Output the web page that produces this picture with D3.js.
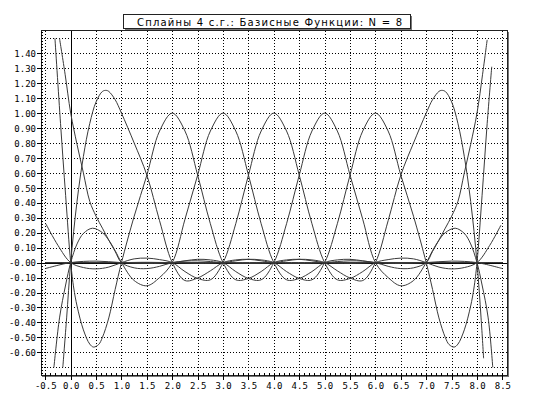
<!doctype html>
<html lang="ru">
<head>
<meta charset="utf-8">
<title>Сплайны 4 с.г.: Базисные Функции</title>
<script src="https://d3js.org/d3.v7.min.js"></script>
<style>
body { margin: 0; background: #fff; }
svg { display: block; }
.grid line { stroke: #000; stroke-width: 1; stroke-dasharray: 1 2; shape-rendering: crispEdges; }
.axis text { font-family: 'DejaVu Sans Mono', monospace; font-size: 9px; fill: #000; }
.axis line { stroke: #000; shape-rendering: crispEdges; }
.axis path { display: none; }
.curve { fill: none; stroke: #3a3a3a; stroke-width: 1; }
.zero { stroke: #000; stroke-width: 1; shape-rendering: crispEdges; }
</style>
</head>
<body>
<svg width="553" height="415"></svg>
<script>
// tick labels
const xTicks = [-0.5, 0, 0.5, 1, 1.5, 2, 2.5, 3, 3.5, 4, 4.5, 5, 5.5, 6, 6.5, 7, 7.5, 8, 8.5];
const xLabels = ['-0.5','0.0','0.5','1.0','1.5','2.0','2.5','3.0','3.5','4.0','4.5','5.0','5.5','6.0','6.5','7.0','7.5','8.0','8.5'];
const yTicks = [-0.6, -0.5, -0.4, -0.3, -0.2, -0.1, 0, 0.1, 0.2, 0.3, 0.4, 0.5, 0.6, 0.7, 0.8, 0.9, 1.0, 1.1, 1.2, 1.3, 1.4];
const yLabels = ['-0.60','-0.50','-0.40','-0.30','-0.20','-0.10','-0.00','0.10','0.20','0.30','0.40','0.50','0.60','0.70','0.80','0.90','1.00','1.10','1.20','1.30','1.40'];
const yGrid = [-0.7, ...yTicks, 1.5];

// basis functions, [x, value]
const b0 = [[-0.22,1.5],[-0.11,1.26],[0,1],[0.125,0.79],[0.25,0.6],[0.375,0.41],[0.5,0.31],[0.625,0.23],[0.75,0.15],[0.875,0.075],[1,0],[1.25,-0.035],[1.5,-0.04],[1.75,-0.025],[2,0],[2.25,0.01],[2.5,0.012],[2.75,0.007],[3,0],[3.5,-0.004],[4,0],[5,0],[6,0],[7,0],[8,0],[8.5,0]];
const b1 = [[-0.155,-0.7],[-0.08,-0.37],[0,0],[0.125,0.41],[0.25,0.71],[0.375,0.93],[0.5,1.075],[0.625,1.145],[0.7,1.152],[0.75,1.145],[0.875,1.09],[1,1],[1.25,0.8],[1.5,0.585],[1.75,0.28],[2,0],[2.25,-0.12],[2.5,-0.103],[2.75,-0.055],[3,0],[3.25,0.018],[3.5,0.022],[3.75,0.012],[4,0],[4.5,-0.005],[5,0],[6,0],[7,0],[8,0],[8.5,0]];
const b2 = [[-0.31,1.5],[-0.2,0.93],[-0.1,0.45],[0,0],[0.06,-0.17],[0.125,-0.29],[0.25,-0.45],[0.375,-0.545],[0.45,-0.565],[0.55,-0.548],[0.625,-0.5],[0.75,-0.37],[0.875,-0.18],[1,0],[1.25,0.31],[1.5,0.585],[1.75,0.88],[2,1],[2.25,0.88],[2.5,0.585],[2.75,0.26],[3,0],[3.25,-0.115],[3.5,-0.106],[3.75,-0.06],[4,0],[4.25,0.018],[4.5,0.022],[4.75,0.012],[5,0],[5.5,-0.006],[6,0],[7,0],[8,0],[8.5,0]];
const b3 = [[-0.33,-0.7],[-0.22,-0.37],[-0.1,-0.15],[0,0],[0.125,0.125],[0.25,0.195],[0.43,0.23],[0.625,0.2],[0.75,0.15],[0.875,0.08],[1,0],[1.25,-0.12],[1.5,-0.155],[1.75,-0.1],[2,0],[2.25,0.29],[2.5,0.585],[2.75,0.88],[3,1],[3.25,0.88],[3.5,0.585],[3.75,0.26],[4,0],[4.25,-0.115],[4.5,-0.106],[4.75,-0.06],[5,0],[5.25,0.018],[5.5,0.022],[5.75,0.012],[6,0],[6.5,-0.006],[7,0],[7.5,0.01],[8,0],[8.5,-0.04]];
const b4 = [[-0.49,0.26],[-0.25,0.115],[0,0],[0.25,-0.033],[0.5,-0.042],[0.75,-0.03],[1,0],[1.25,0.025],[1.5,0.03],[1.75,0.02],[2,0],[2.25,-0.06],[2.5,-0.106],[2.75,-0.115],[3,0],[3.25,0.26],[3.5,0.585],[3.75,0.88],[4,1],[4.25,0.88],[4.5,0.585],[4.75,0.26],[5,0],[5.25,-0.115],[5.5,-0.106],[5.75,-0.06],[6,0],[6.25,0.02],[6.5,0.03],[6.75,0.025],[7,0],[7.25,-0.03],[7.5,-0.042],[7.75,-0.033],[8,0],[8.25,0.115],[8.47,0.25]];
const b5 = [[-0.5,-0.04],[0,0],[0.5,0.01],[1,0],[1.5,-0.006],[2,0],[2.25,0.012],[2.5,0.022],[2.75,0.018],[3,0],[3.25,-0.06],[3.5,-0.106],[3.75,-0.115],[4,0],[4.25,0.26],[4.5,0.585],[4.75,0.88],[5,1],[5.25,0.88],[5.5,0.585],[5.75,0.29],[6,0],[6.25,-0.1],[6.5,-0.155],[6.75,-0.12],[7,0],[7.125,0.08],[7.25,0.15],[7.375,0.2],[7.57,0.23],[7.75,0.195],[7.875,0.125],[8,0],[8.1,-0.15],[8.22,-0.37],[8.31,-0.7]];
const b6 = [[-0.5,0],[0,0],[1,0],[1.5,0.002],[2,0],[2.5,-0.006],[3,0],[3.25,0.012],[3.5,0.022],[3.75,0.018],[4,0],[4.25,-0.06],[4.5,-0.106],[4.75,-0.115],[5,0],[5.25,0.26],[5.5,0.585],[5.75,0.88],[6,1],[6.25,0.88],[6.5,0.585],[6.75,0.31],[7,0],[7.125,-0.18],[7.25,-0.37],[7.375,-0.5],[7.45,-0.548],[7.55,-0.565],[7.625,-0.545],[7.75,-0.45],[7.875,-0.29],[7.94,-0.17],[8,0],[8.1,0.45],[8.2,0.93],[8.29,1.31]];
const b7 = [[-0.5,0],[0,0],[1,0],[2,0],[3,0],[3.5,-0.005],[4,0],[4.25,0.012],[4.5,0.022],[4.75,0.018],[5,0],[5.25,-0.055],[5.5,-0.103],[5.75,-0.12],[6,0],[6.25,0.28],[6.5,0.585],[6.75,0.8],[7,1],[7.125,1.09],[7.25,1.145],[7.3,1.152],[7.375,1.145],[7.5,1.075],[7.625,0.93],[7.75,0.71],[7.875,0.41],[8,0],[8.08,-0.37],[8.13,-0.64]];
const b8 = [[-0.5,0],[0,0],[1,0],[2,0],[3,0],[4,0],[4.5,-0.004],[5,0],[5.25,0.007],[5.5,0.012],[5.75,0.01],[6,0],[6.25,-0.025],[6.5,-0.04],[6.75,-0.035],[7,0],[7.125,0.075],[7.25,0.15],[7.375,0.23],[7.5,0.31],[7.625,0.41],[7.75,0.6],[7.875,0.79],[8,1],[8.11,1.26],[8.2,1.49]];
const curves = [b0, b1, b2, b3, b4, b5, b6, b7, b8];

const title = 'Сплайны  4  с.г.:  Базисные  Функции:  N  =  8';

const svg = d3.select('svg');
const frame = { l: 41, r: 507.5, t: 30.5, b: 375.5 };

const x = d3.scaleLinear().domain([-0.5, 8.5]).range([45.3, 502.4]);
const y = d3.scaleLinear().domain([-0.6, 1.4]).range([352.3, 53.3]);

// grid
const grid = svg.append('g').attr('class', 'grid');
grid.selectAll('.gx').data(xTicks).enter().append('line')
  .attr('x1', d => Math.round(x(d)) + 0.5).attr('x2', d => Math.round(x(d)) + 0.5)
  .attr('y1', frame.t).attr('y2', frame.b);
grid.selectAll('.gy').data(yGrid).enter().append('line')
  .attr('y1', d => Math.round(y(d)) + 0.5).attr('y2', d => Math.round(y(d)) + 0.5)
  .attr('x1', frame.l).attr('x2', frame.r);

// zero lines
svg.append('line').attr('class', 'zero')
  .attr('x1', Math.round(x(0)) + 0.5).attr('x2', Math.round(x(0)) + 0.5)
  .attr('y1', frame.t).attr('y2', frame.b);
svg.append('line').attr('class', 'zero')
  .attr('y1', Math.round(y(0)) + 0.5).attr('y2', Math.round(y(0)) + 0.5)
  .attr('x1', frame.l).attr('x2', frame.r);

// curves
svg.append('clipPath').attr('id', 'plot')
  .append('rect').attr('x', frame.l).attr('y', frame.t)
  .attr('width', frame.r - frame.l).attr('height', frame.b - frame.t);

const line = d3.line()
  .x(d => x(d[0])).y(d => y(d[1]))
  .curve(d3.curveCatmullRom.alpha(0.5));

svg.append('g').attr('clip-path', 'url(#plot)')
  .selectAll('path').data(curves).enter().append('path')
  .attr('class', 'curve')
  .attr('d', line);

// frame
svg.append('rect')
  .attr('x', frame.l).attr('y', frame.t)
  .attr('width', frame.r - frame.l).attr('height', frame.b - frame.t)
  .attr('fill', 'none').attr('stroke', '#222').attr('shape-rendering', 'crispEdges');
svg.append('path')
  .attr('d', `M${frame.r + 1},${frame.t + 1}V${frame.b + 1}H${frame.l + 1}`)
  .attr('fill', 'none').attr('stroke', '#777').attr('shape-rendering', 'crispEdges');

// minor ticks inside
const minorY = d3.range(-0.74, 1.55, 0.02);
svg.append('g').selectAll('line').data(minorY).enter().append('line')
  .attr('x1', frame.l).attr('x2', frame.l + 2)
  .attr('y1', d => Math.round(y(d)) + 0.5).attr('y2', d => Math.round(y(d)) + 0.5)
  .attr('stroke', '#000').attr('shape-rendering', 'crispEdges');
const minorX = d3.range(-0.5, 8.55, 0.1);
svg.append('g').selectAll('line').data(minorX).enter().append('line')
  .attr('x1', d => Math.round(x(d)) + 0.5).attr('x2', d => Math.round(x(d)) + 0.5)
  .attr('y1', frame.b - 3).attr('y2', frame.b)
  .attr('stroke', '#000').attr('shape-rendering', 'crispEdges');

// axes
svg.append('g').attr('class', 'axis')
  .attr('transform', `translate(${frame.l},0)`)
  .call(d3.axisLeft(y).tickValues(yTicks).tickFormat((d, i) => yLabels[i]).tickSize(4).tickPadding(1))
  .selectAll('text').attr('dy', '0.35em');

svg.append('g').attr('class', 'axis')
  .attr('transform', `translate(0,${frame.b})`)
  .call(d3.axisBottom(x).tickValues(xTicks).tickFormat((d, i) => xLabels[i]).tickSize(4).tickPadding(3));

// title box
svg.append('rect')
  .attr('x', 123.5).attr('y', 14.5).attr('width', 287).attr('height', 14)
  .attr('fill', '#fff').attr('stroke', '#222').attr('shape-rendering', 'crispEdges');
svg.append('path')
  .attr('d', 'M411.5,15.5V29.5H124.5')
  .attr('fill', 'none').attr('stroke', '#777').attr('shape-rendering', 'crispEdges');
svg.append('text')
  .attr('x', 137).attr('y', 26)
  .attr('textLength', 265).attr('lengthAdjust', 'spacing')
  .style('font-family', "'DejaVu Sans', sans-serif").style('font-size', '10px')
  .text(title);
</script>
</body>
</html>
